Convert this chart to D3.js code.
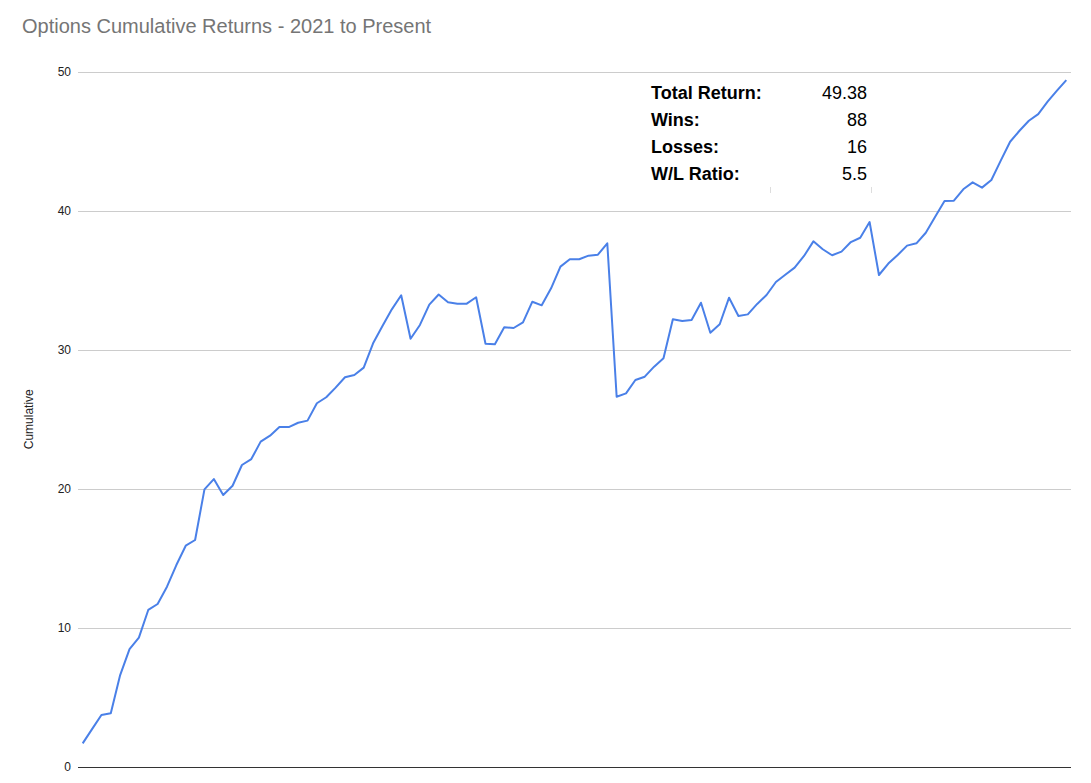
<!DOCTYPE html>
<html>
<head>
<meta charset="utf-8">
<script src="https://cdn.jsdelivr.net/npm/d3@7"></script>
<style>
  html, body { margin: 0; padding: 0; background: #fff; }
  svg { display: block; font-family: "Liberation Sans", Arial, sans-serif; }
</style>
</head>
<body>
<svg id="chart" width="1091" height="783"></svg>
<script>
// ---- Data ----
const title = "Options Cumulative Returns - 2021 to Present";
const yAxisTitle = "Cumulative";
const yTicks = [0, 10, 20, 30, 40, 50];
const cumulative = [
  1.70, 2.72, 3.74, 3.86, 6.61, 8.48, 9.30, 11.29, 11.72, 12.96,
  14.52, 15.91, 16.32, 19.96, 20.70, 19.55, 20.22, 21.71, 22.14, 23.39,
  23.82, 24.44, 24.44, 24.75, 24.90, 26.15, 26.58, 27.27, 28.02, 28.18,
  28.71, 30.46, 31.70, 32.90, 33.91, 30.79, 31.78, 33.24, 33.97, 33.41,
  33.31, 33.31, 33.77, 30.43, 30.39, 31.61, 31.56, 31.97, 33.45, 33.19,
  34.41, 35.97, 36.50, 36.50, 36.76, 36.83, 37.65, 26.62, 26.86, 27.82,
  28.06, 28.78, 29.38, 32.19, 32.06, 32.14, 33.38, 31.22, 31.83, 33.74,
  32.42, 32.54, 33.29, 33.93, 34.87, 35.39, 35.90, 36.74, 37.79, 37.22,
  36.79, 37.05, 37.74, 38.05, 39.18, 35.37, 36.19, 36.81, 37.48, 37.65,
  38.41, 39.56, 40.69, 40.71, 41.53, 42.03, 41.65, 42.20, 43.59, 44.95,
  45.74, 46.46, 46.94, 47.83, 48.62, 49.38
];
const trades = cumulative.map((_, i) => i + 1);
const statLabels = ["Total Return:", "Wins:", "Losses:", "W/L Ratio:"];
const statValues = ["49.38", "88", "16", "5.5"];

// ---- Layout ----
(function () {
const svg = d3.select("#chart");
const plotLeft = 78, plotRight = 1071, plotTop = 71.5, plotBottom = 767;

const x = d3.scalePoint().domain(trades).range([plotLeft, plotRight]).padding(0.5);
const y = d3.scaleLinear().domain([0, 50]).range([plotBottom, plotTop]);

// Title
svg.append("text")
  .attr("x", 22).attr("y", 33)
  .attr("font-size", 20).attr("fill", "#757575")
  .text(title);

// Gridlines
svg.append("g")
  .selectAll("line")
  .data(yTicks.filter(t => t !== 0))
  .join("line")
  .attr("x1", plotLeft).attr("x2", plotRight)
  .attr("y1", d => Math.round(y(d)) + 0.5).attr("y2", d => Math.round(y(d)) + 0.5)
  .attr("stroke", "#cccccc").attr("stroke-width", 1);

// Y axis labels via d3 axis
const yAxis = d3.axisLeft(y).tickValues(yTicks).tickSize(0).tickPadding(7);
const gy = svg.append("g").attr("transform", `translate(${plotLeft},0)`).call(yAxis);
gy.select(".domain").remove();
gy.selectAll("text")
  .attr("font-size", 12)
  .attr("font-family", "Liberation Sans, Arial, sans-serif")
  .attr("fill", "#222");

// Baseline
svg.append("line")
  .attr("x1", plotLeft).attr("x2", plotRight)
  .attr("y1", Math.round(y(0)) + 0.5).attr("y2", Math.round(y(0)) + 0.5)
  .attr("stroke", "#333").attr("stroke-width", 1);

// Y axis title
svg.append("text")
  .attr("transform", `translate(33,${(plotTop + plotBottom) / 2}) rotate(-90)`)
  .attr("text-anchor", "middle")
  .attr("font-size", 12).attr("fill", "#222")
  .text(yAxisTitle);

// Line
const line = d3.line()
  .x((d, i) => x(trades[i]))
  .y(d => y(d));
svg.append("path")
  .datum(cumulative)
  .attr("d", line)
  .attr("fill", "none")
  .attr("stroke", "#4a80e8")
  .attr("stroke-width", 2)
  .attr("stroke-linejoin", "round");

// Stats table
const stats = svg.append("g");
stats.selectAll("text.lab")
  .data(statLabels)
  .join("text")
  .attr("class", "lab")
  .attr("x", 651).attr("y", (d, i) => 99 + i * 27)
  .attr("font-size", 18).attr("font-weight", "bold").attr("fill", "#000")
  .text(d => d);
stats.selectAll("text.val")
  .data(statValues)
  .join("text")
  .attr("class", "val")
  .attr("x", 867).attr("y", (d, i) => 99 + i * 27)
  .attr("text-anchor", "end")
  .attr("font-size", 18).attr("fill", "#000")
  .text(d => d);
// faint table border remnants
stats.selectAll("line.tick")
  .data([770.5, 871.5])
  .join("line")
  .attr("class", "tick")
  .attr("x1", d => d).attr("x2", d => d)
  .attr("y1", 187).attr("y2", 193)
  .attr("stroke", "#dddddd").attr("stroke-width", 1);
})();
</script>
</body>
</html>
